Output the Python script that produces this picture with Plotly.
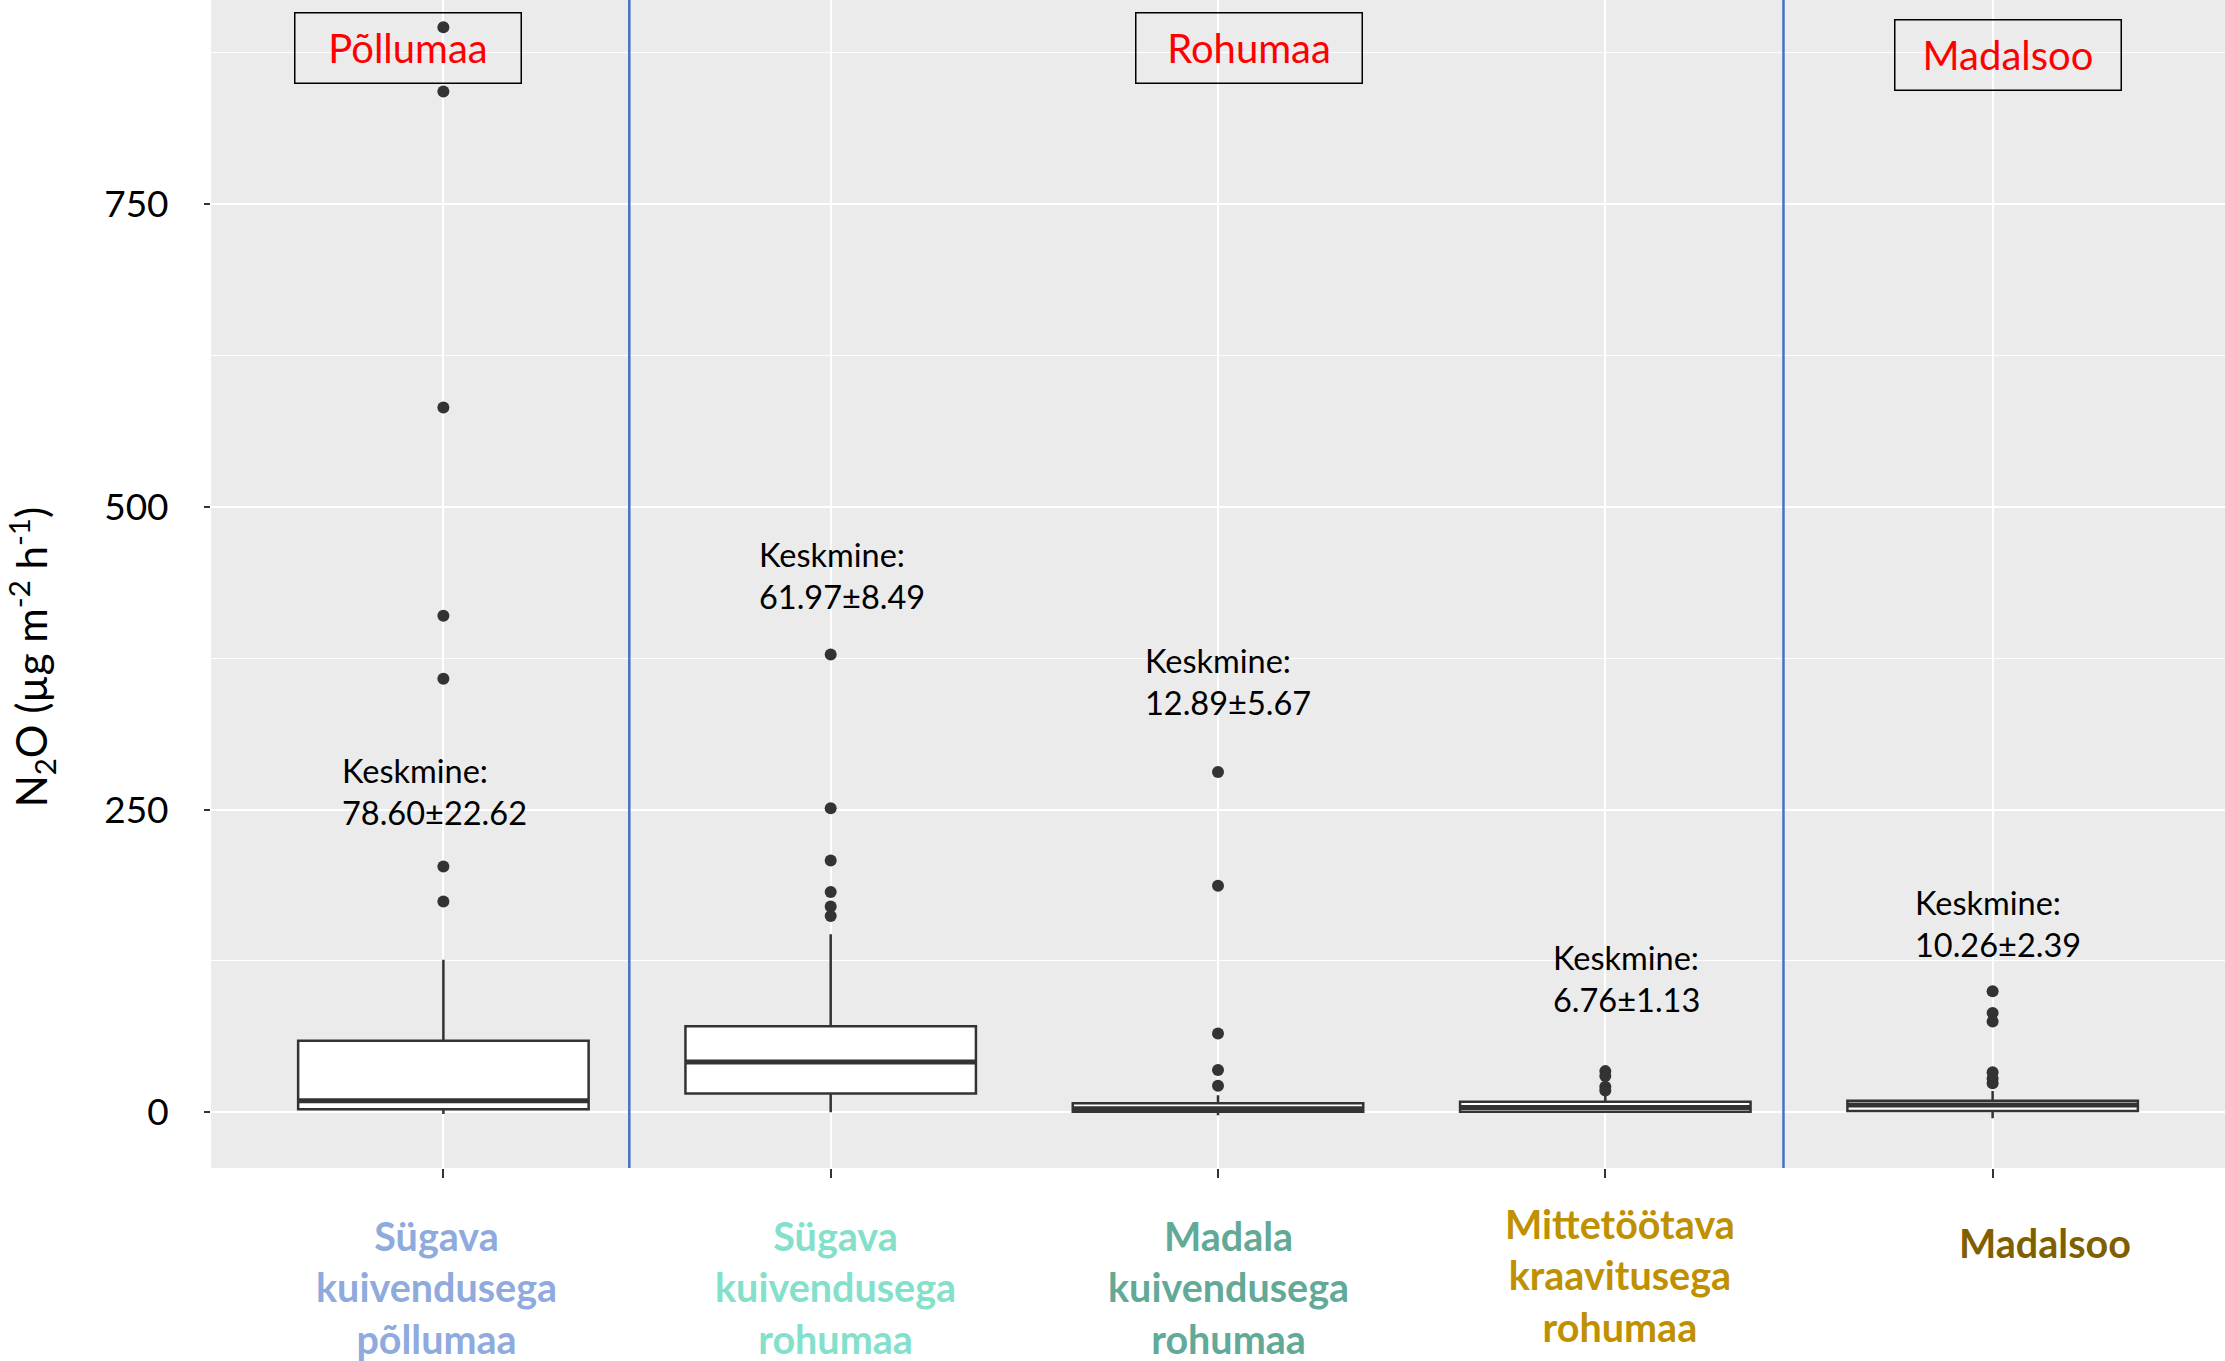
import plotly.graph_objects as go

# --- data -------------------------------------------------------------
categories = [
    "Sügava<br>kuivendusega<br>põllumaa",
    "Sügava<br>kuivendusega<br>rohumaa",
    "Madala<br>kuivendusega<br>rohumaa",
    "Mittetöötava<br>kraavitusega<br>rohumaa",
    "Madalsoo",
]
positions = [0, 1, 2, 3, 4]

q1 = [2.5, 15.5, 0.5, 0.5, 1.0]
median = [9.5, 41.5, 3.0, 4.0, 6.0]
q3 = [59.0, 71.0, 7.5, 8.8, 9.6]
lower_fence = [-1.5, 0.0, -2.5, -0.5, -5.0]
upper_fence = [126.0, 147.0, 14.0, 14.0, 17.5]

outliers = [
    [896, 843, 582, 410, 358, 203, 174],
    [378, 251, 208, 182, 170, 162],
    [281, 187, 65, 35, 22],
    [34, 30, 21, 18],
    [100, 82, 75, 33, 28, 24],
]

mean_text = ["78.60±22.62", "61.97±8.49", "12.89±5.67", "6.76±1.13", "10.26±2.39"]
mean_label_x = [-0.267, 0.81, 1.806, 2.86, 3.794]
mean_label_y = [264.7, 443.5, 355.6, 110.7, 156.3]

label_colors = ["#8FAADC", "#84DFCB", "#63A998", "#BF9000", "#7F6000"]
label_x = [-0.018, 1.012, 2.026, 3.037, 4.134]
label_y = [-0.1015, -0.1015, -0.1015, -0.092, -0.064]

groups = ["Põllumaa", "Rohumaa", "Madalsoo"]
group_x = [-0.092, 2.081, 4.04]
group_y = [879, 879, 873]
group_breaks = [0.48, 3.46]

# --- style ------------------------------------------------------------
FONT = "Lato"
BOX_W = 0.75
INK = "#333333"

fig = go.Figure()

fig.add_trace(go.Box(
    x=positions, q1=q1, median=median, q3=q3,
    lowerfence=lower_fence, upperfence=upper_fence,
    boxpoints=False, width=BOX_W, whiskerwidth=0,
    fillcolor="white", line=dict(color=INK, width=2.5),
    showlegend=False, hoverinfo="skip",
))

# thicker median bars
for p, m in zip(positions, median):
    fig.add_trace(go.Scatter(
        x=[p - BOX_W / 2, p + BOX_W / 2], y=[m, m], mode="lines",
        line=dict(color=INK, width=5), showlegend=False, hoverinfo="skip",
    ))

# outlying observations
ox, oy = [], []
for p, vals in zip(positions, outliers):
    ox += [p] * len(vals)
    oy += vals
fig.add_trace(go.Scatter(
    x=ox, y=oy, mode="markers",
    marker=dict(color=INK, size=12), showlegend=False, hoverinfo="skip",
))

annotations = []
for x, y, t in zip(mean_label_x, mean_label_y, mean_text):
    annotations.append(dict(
        x=x, y=y, xref="x", yref="y", text="Keskmine:<br>" + t,
        xanchor="left", yanchor="middle", align="left", showarrow=False,
        font=dict(family=FONT, size=32.5, color="black"),
    ))

for x, y, t in zip(group_x, group_y, groups):
    annotations.append(dict(
        x=x, y=y, xref="x", yref="y", text=t, showarrow=False,
        font=dict(family=FONT, size=40, color="#FF0000"),
        bordercolor="black", borderwidth=1.5, borderpad=0,
        width=225, height=69, xanchor="center", yanchor="middle",
    ))

for x, y, t, c in zip(label_x, label_y, categories, label_colors):
    annotations.append(dict(
        x=x, y=y, xref="x", yref="paper", text="<b>" + t + "</b>",
        showarrow=False, xanchor="center", yanchor="middle", align="center",
        font=dict(family=FONT, size=39.5, color=c),
    ))

annotations.append(dict(
    x=-0.0894, y=0.438, xref="paper", yref="paper", textangle=-90,
    text="N<sub>2</sub>O (µg m<sup>-2</sup> h<sup>-1</sup>)", showarrow=False,
    xanchor="center", yanchor="middle",
    font=dict(family=FONT, size=42, color="black"),
))

shapes = [
    dict(type="line", xref="x", yref="paper", x0=b, x1=b, y0=0, y1=1,
         line=dict(color="#4472C4", width=2.5))
    for b in group_breaks
]

fig.update_layout(
    width=2225, height=1361,
    margin=dict(l=211, r=0, t=0, b=193),
    paper_bgcolor="white", plot_bgcolor="#EBEBEB",
    font=dict(family=FONT, color="black"),
    annotations=annotations, shapes=shapes,
    showlegend=False,
)

fig.update_xaxes(
    range=[-0.6, 4.6], tickvals=positions, showticklabels=False,
    ticks="outside", ticklen=9, tickwidth=2, tickcolor=INK,
    showgrid=True, gridcolor="white", gridwidth=2.2,
    zeroline=False, showline=False,
)
fig.update_yaxes(
    range=[-46, 918.5], tickvals=[0, 250, 500, 750],
    ticks="outside", ticklen=6, tickwidth=2, tickcolor=INK,
    tickfont=dict(family=FONT, size=37, color="black"),
    ticklabelstandoff=28,
    showgrid=True, gridcolor="white", gridwidth=2.2,
    minor=dict(tickvals=[125, 375, 625, 875], showgrid=True,
               gridcolor="white", gridwidth=1.1, ticks=""),
    zeroline=False, showline=False,
)

fig.write_html("out.html")
